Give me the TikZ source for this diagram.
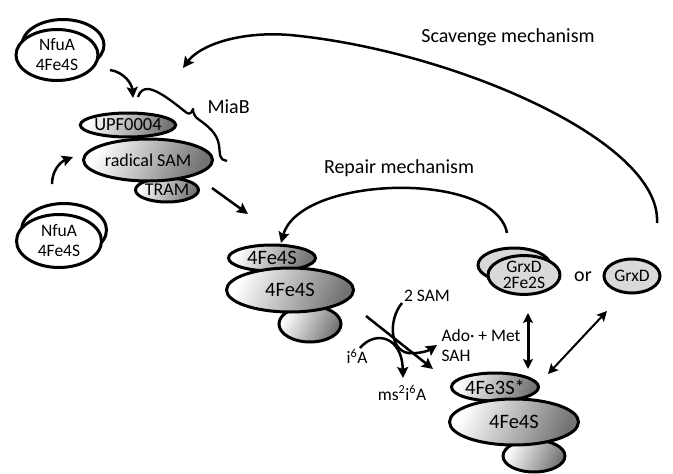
\documentclass[tikz,border=0pt]{standalone}
\usepackage{fontspec}
\setmainfont{Carlito}
\usetikzlibrary{shapes.geometric,arrows.meta}
\begin{document}
\begin{tikzpicture}[x=1pt,y=-1pt,font=\fontsize{17.5}{20}\selectfont,
	prot/.style={ellipse,draw,line width=3pt,inner sep=0pt,align=center,left color=white,middle color=black!8,right color=black!55,shading angle=65,font=\fontsize{20.5}{22}\selectfont},
	donor/.style={ellipse,draw,line width=3pt,inner sep=0pt,align=center,fill=white},
	grx/.style={ellipse,draw,line width=3pt,inner sep=0pt,align=center,fill=black!15,font=\fontsize{17.5}{16}\selectfont},
	conn/.style={line width=2.5pt,-{Stealth[length=11pt,width=11pt,inset=2pt]}},
	twoway/.style={line width=2pt,{Stealth[length=10pt,width=10pt,inset=2pt]}-{Stealth[length=10pt,width=10pt,inset=2pt]}},
	head/.style={font=\fontsize{20}{22}\selectfont}]
	\useasboundingbox (0,0) rectangle (673,474);
	% iron donors
	\node[donor,minimum width=82pt,minimum height=51pt] (nfuaTopBack) at (63,45) {};
	\node[donor,minimum width=82pt,minimum height=51pt] (nfuaTop) at (57,55) {NfuA\\4Fe4S};
	\node[donor,minimum width=85pt,minimum height=53pt] (nfuaBotBack) at (64,230) {};
	\node[donor,minimum width=85pt,minimum height=53pt] (nfuaBot) at (59,241) {NfuA\\4Fe4S};
	% MiaB
	\node[prot,minimum width=88pt,minimum height=24pt,font=\fontsize{18.5}{20}\selectfont] (upf) at (128,125) {UPF0004};
	\node[prot,minimum width=63pt,minimum height=24pt,font=\fontsize{18}{20}\selectfont] (tram) at (167,190) {TRAM};
	\node[prot,minimum width=129pt,minimum height=42pt,font=\fontsize{18}{20}\selectfont] (radSam) at (148,160) {radical SAM};
	\draw[line width=2.3pt,line join=round] (138,97) .. controls (140,91) and (143,89) .. (148,89) .. controls (160,90) and (180,108) .. (187,113)
		.. controls (190,115) and (192,112) .. (193,109) .. controls (193,113) and (195,117) .. (198,119)
		.. controls (208,126) and (217,133) .. (219,145) -- (220,155) .. controls (221,159) and (224,161) .. (227,161);
	\node[head,anchor=west] (miab) at (204,107) {MiaB};
	% holo enzyme
	\node[prot,minimum width=62pt,minimum height=36pt] (ironBot) at (310,324) {};
	\node[prot,minimum width=87pt,minimum height=26pt] (ironTop) at (272,258) {4Fe4S};
	\node[prot,minimum width=127pt,minimum height=44pt] (ironMid) at (290,290) {4Fe4S};
	% damaged enzyme
	\node[prot,minimum width=62pt,minimum height=32pt] (damBot) at (534,456) {};
	\node[prot,minimum width=87pt,minimum height=28pt] (damTop) at (495,387) {4Fe3S*};
	\node[prot,minimum width=129pt,minimum height=46pt] (damMid) at (514,422) {4Fe4S};
	% GrxD
	\node[grx,minimum width=72pt,minimum height=34pt] (grxBack) at (514,265) {};
	\node[grx,minimum width=72pt,minimum height=34pt] (grxHolo) at (524,275) {GrxD\\2Fe2S};
	\node[grx,minimum width=56pt,minimum height=34pt] (grxApo) at (632,276) {GrxD};
	\node[head] (orLbl) at (583,277) {or};
	% reaction
	\node (samIn) at (427,296) {2 SAM};
	\node (ioA) at (357,356) {i\textsuperscript{6}A};
	\node (msA) at (402,393) {ms\textsuperscript{2}i\textsuperscript{6}A};
	\node[anchor=west] (adoOut) at (438,335) {Ado· + Met};
	\node[anchor=west] (sahOut) at (438,356) {SAH};
	\coordinate (samStart) at (402,303);
	\coordinate (samEnd) at (437,345);
	\coordinate (ioStart) at (360,348);
	\coordinate (msEnd) at (403,378);
	\coordinate (crossStart) at (366,316);
	\coordinate (crossEnd) at (433,369);
	\draw[conn] (crossStart) -- (crossEnd);
	\draw[conn] (samStart) .. controls (388,320) and (390,350) .. (408,353) .. controls (418,354) and (428,351) .. (samEnd);
	\draw[conn] (ioStart) .. controls (375,330) and (402,336) .. (msEnd);
	% transfers
	\coordinate (nfuaTopOut) at (110,70);
	\coordinate (miabIn) at (133,98);
	\coordinate (nfuaBotOut) at (52,184);
	\coordinate (radSamIn) at (73,157);
	\coordinate (tramOut) at (212,188);
	\coordinate (ironIn) at (248,214);
	\draw[conn] (nfuaTopOut) .. controls (124,72) and (132,84) .. (miabIn);
	\draw[conn] (nfuaBotOut) .. controls (52,171) and (60,162) .. (radSamIn);
	\draw[conn] (tramOut) -- (ironIn);
	\draw[twoway,line width=3pt] (528,313) -- (528,369);
	\draw[twoway] (548,374) -- (607,311);
	% repair and scavenge
	\coordinate (repairStart) at (507,233);
	\coordinate (repairEnd) at (281,243);
	\coordinate (scavStart) at (657,223);
	\coordinate (scavEnd) at (183,68);
	\draw[conn] (repairStart) .. controls (495,170) and (300,175) .. (repairEnd);
	\node[head] (repairLbl) at (399,168) {Repair mechanism};
	\draw[conn] (scavStart) .. controls (662,140) and (450,50) .. (290,35) .. controls (240,31) and (200,45) .. (scavEnd);
	\node[head] (scavLbl) at (508,37) {Scavenge mechanism};
\end{tikzpicture}
\end{document}
